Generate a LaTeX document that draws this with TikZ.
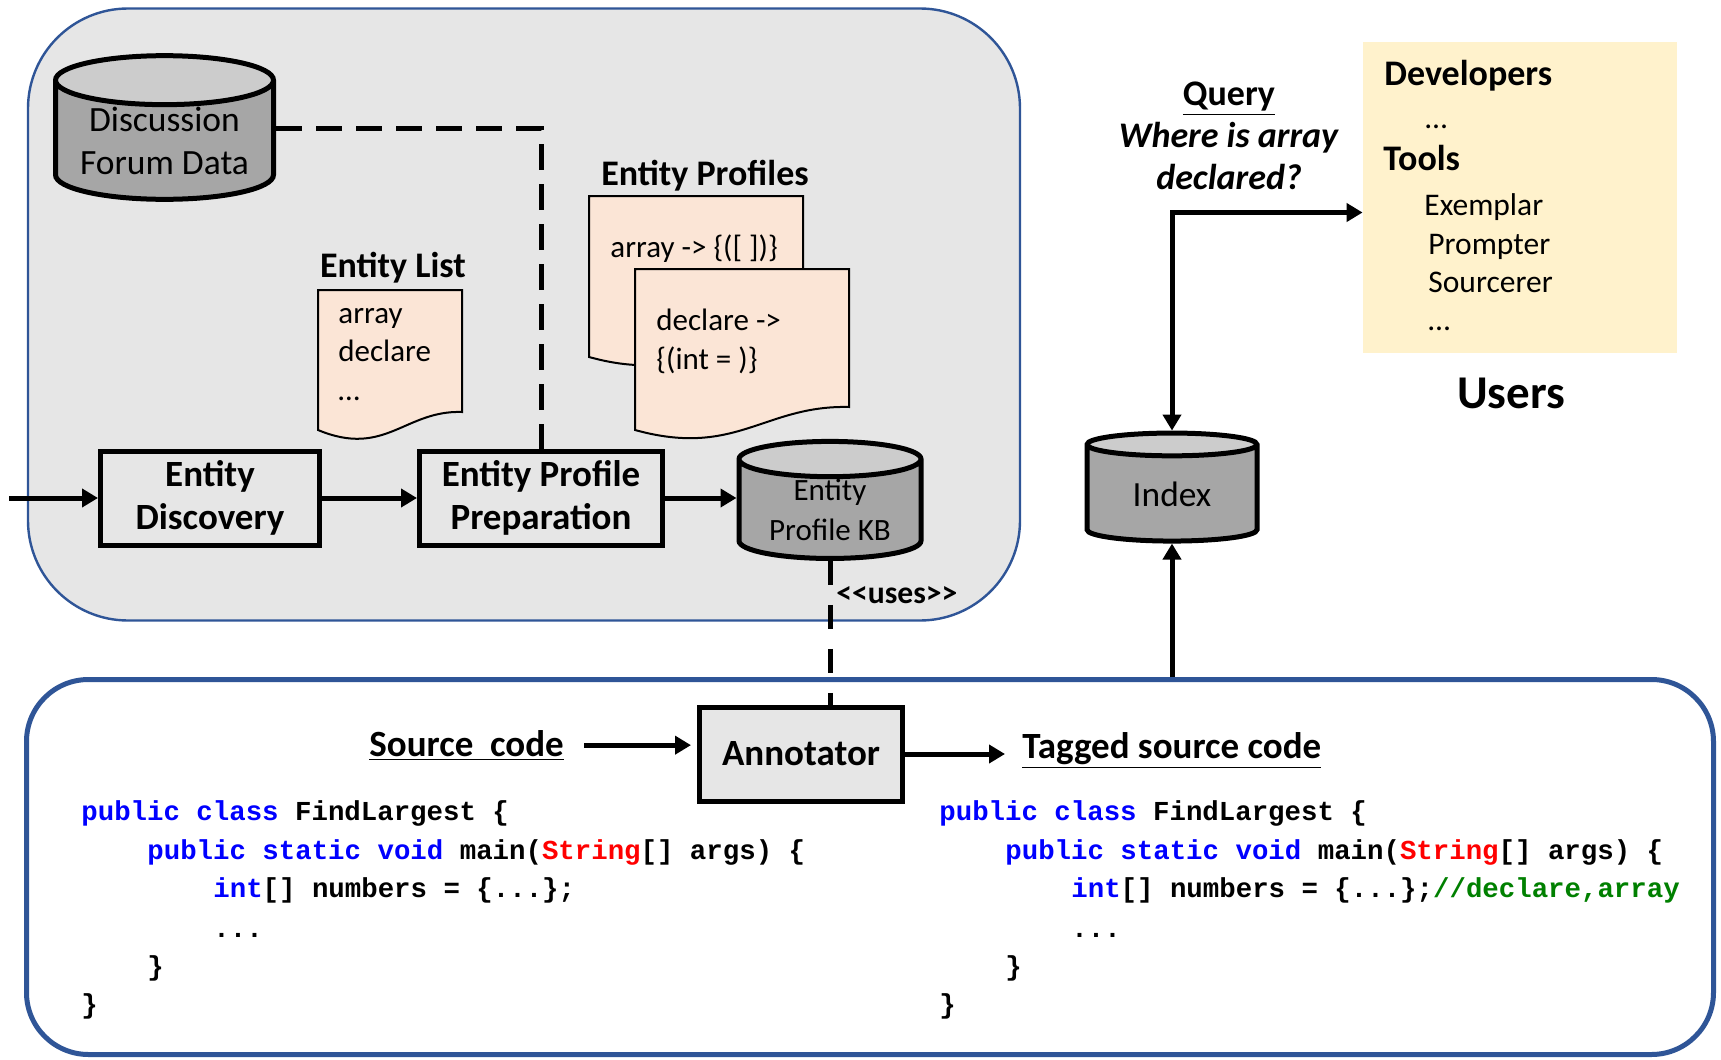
\documentclass[tikz,border=0pt]{standalone}
\usepackage{fontspec}
\setmainfont{Carlito}
\newfontfamily\codefont{Liberation Mono}
\usetikzlibrary{shapes.geometric,arrows.meta}

\definecolor{frameblue}{RGB}{47,85,151}
\definecolor{panelgray}{RGB}{230,230,230}
\definecolor{dbbody}{RGB}{166,166,166}
\definecolor{dbtop}{RGB}{204,204,204}
\definecolor{docfill}{RGB}{251,229,214}
\definecolor{userfill}{RGB}{255,242,204}
\definecolor{kwblue}{RGB}{0,0,255}
\definecolor{tyred}{RGB}{255,0,0}
\definecolor{cmtgreen}{RGB}{0,128,0}

\newcommand{\kw}[1]{\textcolor{kwblue}{#1}}
\newcommand{\ty}[1]{\textcolor{tyred}{#1}}
\newcommand{\cmt}[1]{\textcolor{cmtgreen}{#1}}

\begin{document}
\begin{tikzpicture}
  [x=0.5pt,y=-0.5pt,every node/.style={inner sep=0pt},
   frame/.style={rounded corners=#1,draw=frameblue},
   box/.style={draw,line width=2.5pt,align=center,font=\fontsize{18.5}{21.5}\selectfont\bfseries},
   db/.style={cylinder,shape border rotate=90,aspect=0.29,draw,line width=2.5pt,
     cylinder uses custom fill,cylinder body fill=dbbody,cylinder end fill=dbtop,align=center},
   doc/.style={draw,line width=1pt,fill=docfill},
   doctext/.style={anchor=base west,font=\fontsize{15.5}{19}\selectfont},
   head/.style={anchor=base,font=\fontsize{18}{21}\selectfont\bfseries},
   ubold/.style={anchor=base west,font=\fontsize{18}{21}\selectfont\bfseries},
   uitem/.style={anchor=base west,font=\fontsize{15.75}{19}\selectfont},
   under/.style={anchor=base west,font=\fontsize{18.5}{21}\selectfont\bfseries},
   code/.style={anchor=base west,font=\codefont\bfseries\fontsize{13.7}{19.5}\selectfont},
   arr/.style={line width=2.5pt,-{Triangle[length=8pt,width=9pt]}},
   biarr/.style={line width=2.5pt,{Triangle[length=8pt,width=9pt]}-{Triangle[length=8pt,width=9pt]}}]
  \useasboundingbox (0,0) rectangle (1721,1060);

  % the two panels
  \node (prep) [frame=50pt,fill=panelgray,line width=1.2pt,minimum width=496pt,minimum height=306pt] at (524,314.5) {};
  \node (bot) [frame=31pt,fill=white,line width=2.5pt,minimum width=843.5pt,minimum height=187.5pt] at (870,867) {};

  % stores
  \node (dfd) [db,minimum width=109pt,minimum height=53.5pt,font=\fontsize{17.75}{21.5}\selectfont] at (164.5,141) {Discussion\\Forum Data};
  \node (kb) [db,minimum width=91pt,minimum height=45pt,font=\fontsize{15.5}{20}\selectfont] at (830,510) {Entity\\Profile KB};
  \node (idx) [db,minimum width=85pt,minimum height=54pt,font=\fontsize{17.7}{21}\selectfont] at (1172,494) {Index};

  % steps
  \node (ed) [box,minimum width=109.5pt,minimum height=47pt] at (210,498) {Entity\\Discovery};
  \node (epp) [box,minimum width=121.5pt,minimum height=47pt] at (541,498) {Entity Profile\\Preparation};
  \node (ann) [box,fill=panelgray,minimum width=101.5pt,minimum height=47pt] at (801,754) {Annotator};

  % documents
  \filldraw[doc] (318,290) -- (462,290) -- (462,412) .. controls (405,410) and (385,458) .. (318,430) -- cycle;
  \filldraw[doc] (589,196) -- (803,196) -- (803,334) .. controls (718,332) and (690,385) .. (589,357) -- cycle;
  \filldraw[doc] (635,269) -- (849,269) -- (849,407) .. controls (764,405) and (736,458) .. (635,430) -- cycle;
  \node (elabel) [head] at (393,277) {Entity List};
  \node (plabel) [head] at (705,185) {Entity Profiles};
  \node (e1) [doctext] at (338,323) {array};
  \node (e2) [doctext] at (338,361) {declare};
  \node (e3) [doctext] at (338,400) {…};
  \node (p1) [doctext] at (610,257) {array -> \{([ ])\}};
  \node (p2) [doctext] at (656,330) {declare ->};
  \node (p3) [doctext] at (656,369) {\{(int = )\}};

  % flow in the preparation panel
  \coordinate (in) at (9,498);
  \draw[arr] (in) -- (ed);
  \draw[arr] (ed) -- (epp);
  \draw[arr] (epp) -- (epp -| kb.west);
  \draw[line width=2.5pt,dash pattern=on 13pt off 7pt] ([yshift=6pt]dfd.east) -| (epp.north);
  \draw[line width=2.5pt,dash pattern=on 12pt off 10pt] (kb.south) -- (kb.south |- ann.north);
  \node (uses) [anchor=base west,font=\fontsize{15.8}{19}\selectfont\bfseries] at (836,603) {<\kern0pt<uses>\kern0pt>};

  % annotation
  \node (src) [under] at (369,756) {\underline{Source~ code}};
  \node (tag) [under] at (1022,758) {\underline{Tagged source code}};
  \draw[arr,shorten <=10pt,shorten >=3pt] (src.east) -- (src.east -| ann.west);
  \draw[arr,shorten >=8.5pt] (ann.east) -- (ann.east -| tag.west);
  \foreach \x/\side/\c in {81/l/{},939/r/{\cmt{//declare,array}}} {
    \node (\side1) [code] at (\x,820) {\kw{public class} FindLargest \{};
    \node (\side2) [code] at ({\x+66},859) {\kw{public static void} main(\ty{String}[] args) \{};
    \node (\side3) [code] at ({\x+132},897) {\kw{int}[] numbers = \{...\};\c};
    \node (\side4) [code] at ({\x+132},937) {...};
    \node (\side5) [code] at ({\x+66},975) {\}};
    \node (\side6) [code] at (\x,1013) {\}};
  }
  \draw[arr] (idx.south |- bot.north) -- (idx.south);

  % query and users
  \node (query) [align=center,font=\fontsize{18}{21}\selectfont\bfseries] at (1229,136) {\underline{Query}\\\textit{Where is array}\\\textit{declared?}};
  \node (users) [fill=userfill,minimum width=157pt,minimum height=155.5pt] at (1520,197.5) {};
  \draw[biarr] (idx.north) |- ([yshift=-7.5pt]users.west);
  \node (u1) [ubold] at (1384,85) {Developers};
  \node (u2) [uitem] at (1425,128) {…};
  \node (u3) [ubold] at (1383,170) {Tools};
  \node (u4) [uitem] at (1424,215) {Exemplar};
  \node (u5) [uitem] at (1428,254) {Prompter};
  \node (u6) [uitem] at (1428,292) {Sourcerer};
  \node (u7) [uitem] at (1428,330) {…};
  \node (ulabel) [anchor=base,font=\fontsize{23.5}{28}\selectfont\bfseries] at (1511,408) {Users};
\end{tikzpicture}
\end{document}
